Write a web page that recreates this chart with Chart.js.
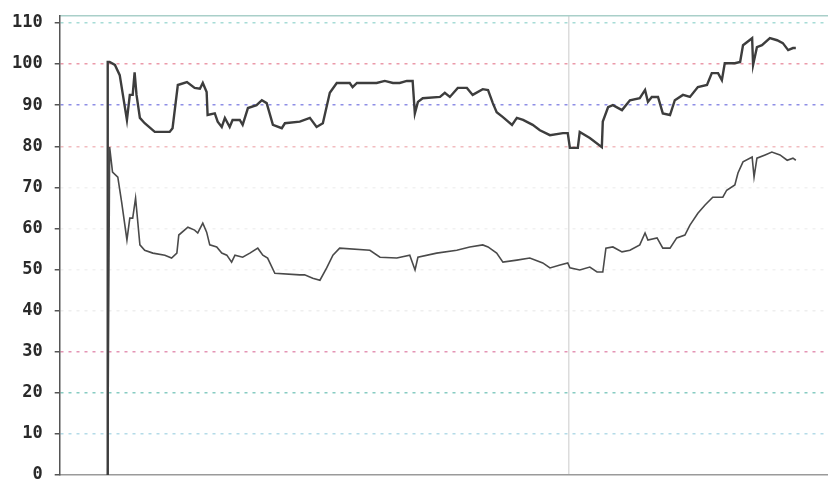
<!DOCTYPE html>
<html>
<head>
<meta charset="utf-8">
<script src="https://cdn.jsdelivr.net/npm/chart.js@4.4.1/dist/chart.umd.min.js"></script>
<style>
  html, body { margin: 0; padding: 0; background: #fff; }
  #wrap { width: 828px; height: 479px; }
</style>
</head>
<body>
<div id="wrap"><canvas id="mainChart"></canvas></div>
<script>
// values (x = time step, y = value)
const upperX = [10, 10, 10.4, 11.5, 12.5, 14, 14.6, 15.2, 15.6, 16, 16.7, 17.7, 19.8, 22.9, 23.5, 24.6, 26.5, 28.1, 29.2, 29.8, 30.6, 30.8, 32.3, 32.9, 33.75, 34.4, 35.4, 36, 37.5, 38.1, 39.2, 41, 42.1, 43.1, 44.4, 46.25, 46.9, 50, 52.1, 53.5, 54.8, 56.25, 57.7, 60.4, 61, 61.9, 66, 67.7, 69.4, 70.8, 72.3, 73.5, 73.96, 74.6, 75.6, 79.2, 80.2, 81.25, 82.9, 84.8, 86, 88.1, 89.2, 90.2, 91, 92.3, 94.2, 95.2, 96.5, 98.5, 100, 102.1, 104.8, 105.8, 106.25, 107.9, 108.3, 110.4, 112.9, 113.1, 114.2, 115.2, 117.1, 118.75, 120.8, 121.9, 122.5, 123.3, 124.6, 125.6, 127.1, 128.1, 129.8, 131.25, 132.9, 134.8, 135.8, 137.1, 137.9, 138.5, 140.6, 141.7, 142.3, 144.2, 144.4, 145.2, 146.25, 147.9, 149.4, 150.6, 151.7, 152.7, 153.3];
const upperY = [0, 100.5, 100.5, 99.8, 97.3, 86.4, 92.5, 92.5, 98, 92.5, 86.9, 85.6, 83.5, 83.5, 84.4, 94.9, 95.6, 94.2, 94, 95.4, 93.2, 87.6, 88, 86, 84.7, 86.9, 84.7, 86.4, 86.4, 85.2, 89.3, 90, 91.2, 90.5, 85.2, 84.4, 85.6, 86, 86.9, 84.7, 85.6, 93, 95.4, 95.4, 94.4, 95.4, 95.4, 95.9, 95.4, 95.4, 95.9, 95.9, 88, 90.8, 91.7, 92, 93, 92, 94.2, 94.2, 92.5, 93.9, 93.7, 90.5, 88.3, 87.1, 85.2, 86.9, 86.4, 85.2, 83.9, 82.7, 83.2, 83.2, 79.6, 79.6, 83.5, 82, 79.8, 86, 89.5, 90, 88.8, 91.2, 91.7, 93.7, 90.8, 92, 92, 88, 87.6, 91.2, 92.5, 92, 94.4, 94.9, 97.8, 97.8, 96.1, 100.2, 100.2, 100.5, 104.6, 106.3, 99.8, 104.1, 104.6, 106.3, 105.8, 105.1, 103.4, 103.9, 103.9];

const lowerX = [10, 10.4, 11, 12.1, 12.9, 14, 14.6, 15.2, 15.8, 16.7, 17.7, 19.4, 21.9, 23.3, 24.4, 24.8, 26.7, 28.1, 28.75, 29.8, 30.6, 31.25, 32.7, 33.75, 34.8, 35.8, 36.5, 38.1, 39.6, 41.25, 42.3, 43.3, 44.8, 50, 51, 52.7, 54.2, 55.6, 56.9, 58.3, 64.6, 66.7, 70.2, 72.9, 74, 74.6, 78.5, 82.7, 85.4, 88.1, 89.2, 91, 92.3, 95.2, 97.9, 100.6, 102.1, 104.2, 105.8, 106.25, 108.3, 110.4, 111.9, 113.1, 113.75, 115.2, 117.1, 118.75, 120.8, 121.9, 122.5, 124.4, 125.6, 127.1, 128.5, 130.2, 131.25, 132.9, 134.4, 136, 138.1, 138.9, 140.6, 141.25, 142.3, 144.2, 144.6, 145.2, 146.9, 148.3, 150, 151.5, 152.7, 153.3];
const lowerY = [0, 79.8, 73.7, 72.5, 66.4, 57.2, 62.5, 62.5, 67.4, 56, 54.7, 54, 53.5, 52.8, 54, 58.4, 60.3, 59.6, 58.9, 61.3, 59.1, 56, 55.5, 54, 53.5, 51.8, 53.5, 53, 54, 55.2, 53.5, 52.8, 49.1, 48.7, 48.7, 47.9, 47.4, 50.4, 53.5, 55.2, 54.7, 53, 52.8, 53.5, 49.9, 53, 54, 54.7, 55.5, 56, 55.5, 54, 51.8, 52.3, 52.8, 51.6, 50.4, 51.1, 51.6, 50.4, 49.9, 50.6, 49.4, 49.4, 55.2, 55.5, 54.3, 54.7, 56, 58.9, 57.2, 57.7, 55.2, 55.2, 57.7, 58.4, 60.8, 63.7, 65.7, 67.6, 67.6, 69.3, 70.6, 73.5, 76.2, 77.4, 72.5, 77.1, 77.9, 78.6, 77.9, 76.6, 77.1, 76.6];

const yTicks = [0, 10, 20, 30, 40, 50, 60, 70, 80, 90, 100, 110];
const xMarks = [106];

// grid colours per y tick (the original has oddly tinted dotted lines)
const gridColors = {
    110: '#a6dcd6', 100: '#eb9aaa', 90: '#8e8ee6', 80: '#f2bcc0',
    70: '#f1f1f1', 60: '#f1f1f1', 50: '#f1f1f1', 40: '#eeeeee',
    30: '#e494b4', 20: '#86ccc2', 10: '#b4dbe8', 0: 'rgba(0,0,0,0)'
};

const toPoints = (xs, ys) => xs.map((x, i) => ({ x: x, y: ys[i] }));
const noHeight = (s) => { s.height = 0; };

const ctx = document.getElementById('mainChart').getContext('2d');
new Chart(ctx, {
    type: 'line',
    data: {
        datasets: [
            { data: toPoints(upperX, upperY), borderColor: '#3d3d3d', borderWidth: 2.4, pointRadius: 0, tension: 0 },
            { data: toPoints(lowerX, lowerY), borderColor: '#4a4a4a', borderWidth: 1.6, pointRadius: 0, tension: 0 }
        ]
    },
    options: {
        responsive: true,
        maintainAspectRatio: false,
        animation: false,
        layout: { padding: { left: 0, top: 16, right: 0, bottom: 4 } },
        plugins: { legend: { display: false }, tooltip: { enabled: false } },
        scales: {
            x: {
                type: 'linear', min: 0, max: 160,
                afterBuildTicks: (s) => { s.ticks = xMarks.map(v => ({ value: v })); },
                afterFit: noHeight,
                ticks: { display: false },
                grid: { color: '#dcdcdc', lineWidth: 1.5, drawTicks: false },
                border: { color: '#9a9a9a', width: 1.5 }
            },
            xTop: {
                type: 'linear', position: 'top', min: 0, max: 160,
                afterFit: noHeight,
                ticks: { display: false },
                grid: { display: false, drawTicks: false },
                border: { color: '#a9cfc9', width: 1.5 }
            },
            y: {
                min: 0, max: 111.7,
                afterBuildTicks: (s) => { s.ticks = yTicks.map(v => ({ value: v })); },
                afterFit: (s) => { s.paddingTop = 0; s.paddingBottom = 0; },
                ticks: {
                    color: '#2a2a2a',
                    padding: 12,
                    font: { family: 'DejaVu Sans Mono', size: 17, weight: 'bold' }
                },
                grid: {
                    color: (c) => (c.tick ? (gridColors[c.tick.value] || '#eee') : '#eee'),
                    lineWidth: 1.5,
                    tickLength: 5,
                    tickColor: '#555'
                },
                border: { color: '#555', width: 1.5, dash: [3, 5] }
            }
        }
    }
});
</script>
</body>
</html>
